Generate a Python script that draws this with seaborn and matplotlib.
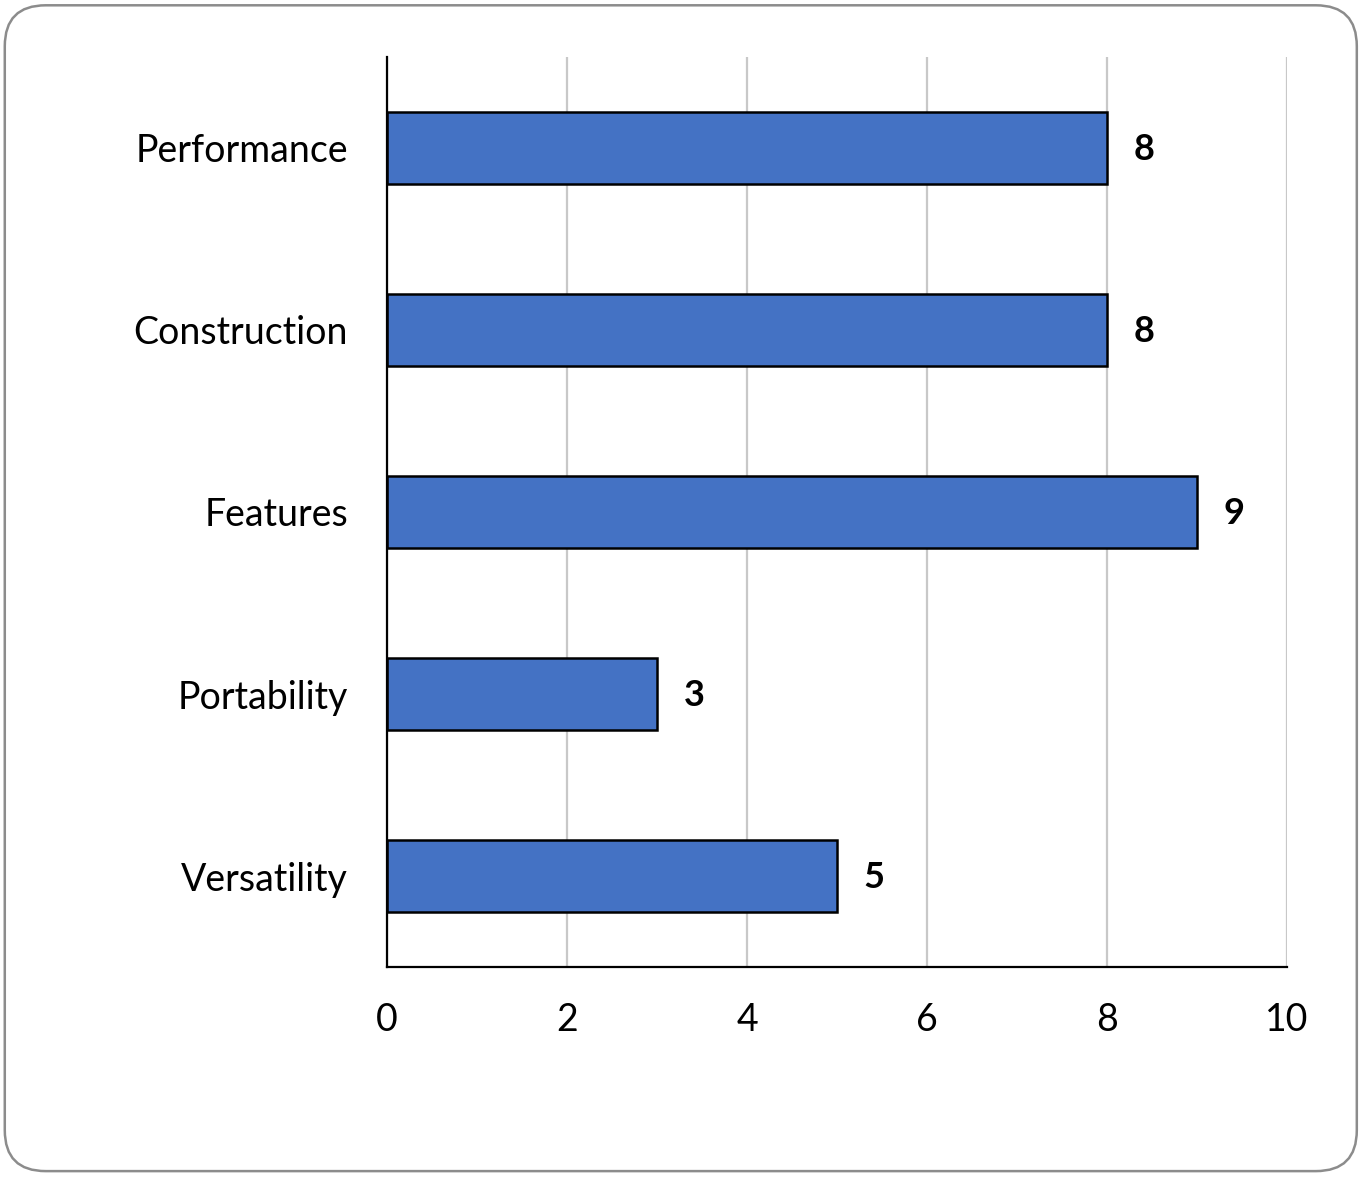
import matplotlib
matplotlib.use("Agg")
import matplotlib.pyplot as plt
from matplotlib.patches import FancyBboxPatch
import pandas as pd
import seaborn as sns

# chart values
categories = ["Performance", "Construction", "Features", "Portability", "Versatility"]
scores = [8, 8, 9, 3, 5]
x_ticks = [0, 2, 4, 6, 8, 10]

sns.set_theme(style="white")
plt.rcParams["font.family"] = ["Lato", "DejaVu Sans"]

df = pd.DataFrame({"Category": categories, "Score": scores})

fig = plt.figure(figsize=(13.65, 11.77), dpi=100)
ax = fig.add_axes([0.2835, 0.1784, 0.6594, 0.7732])

sns.barplot(data=df, x="Score", y="Category", orient="h", color="#4472C4",
            saturation=1, width=0.4, edgecolor="black", linewidth=1.8, ax=ax)

ax.set_xlim(0, 10)
ax.set_ylim(4.5, -0.5)
ax.set_xticks(x_ticks)
ax.set_xticklabels([str(t) for t in x_ticks])
ax.xaxis.grid(True, color="#c8c8c8", linewidth=1.6)
ax.set_axisbelow(True)
ax.set_xlabel("")
ax.set_ylabel("")
ax.tick_params(axis="x", length=0, pad=25, labelsize=27, colors="black")
ax.tick_params(axis="y", length=0, pad=28, labelsize=27, colors="black")

for s in ["top", "right"]:
    ax.spines[s].set_visible(False)
for s in ["left", "bottom"]:
    ax.spines[s].set_color("black")
    ax.spines[s].set_linewidth(1.6)

# value labels next to the bars
for i, v in enumerate(scores):
    ax.annotate(str(v), xy=(v, i), xytext=(19, -1), textcoords="offset points",
                ha="left", va="center", fontsize=26, fontweight="bold", color="black")

# rounded frame around the whole figure
frame = FancyBboxPatch((0.0035, 0.005), 0.9905, 0.9905,
                       boxstyle="round,pad=0,rounding_size=0.03",
                       transform=fig.transFigure, facecolor="none",
                       edgecolor="#8c8c8c", linewidth=1.8, mutation_aspect=1365 / 1177)
fig.patches.append(frame)

fig.savefig("out.png", dpi=100)
